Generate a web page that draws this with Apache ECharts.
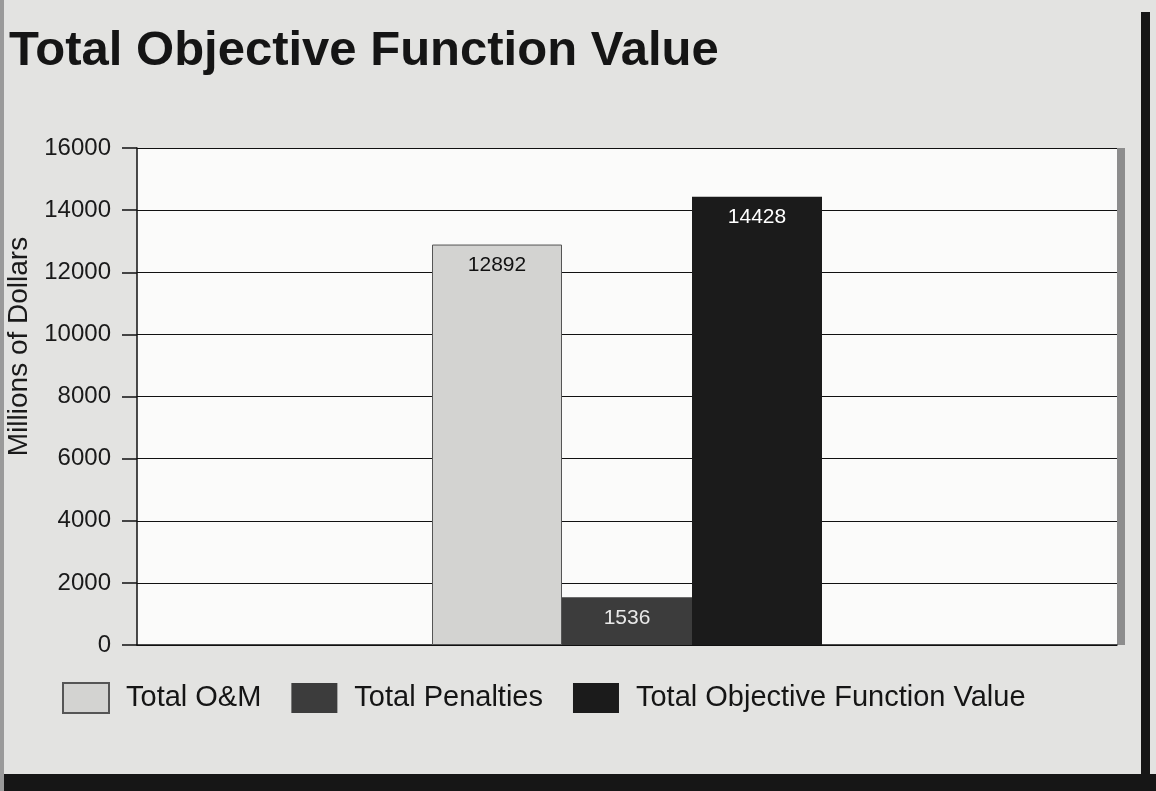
<!DOCTYPE html>
<html>
<head>
<meta charset="utf-8">
<script src="https://cdn.jsdelivr.net/npm/echarts@6/dist/echarts.min.js"></script>
<style>
  html, body { margin: 0; padding: 0; }
  body { width: 1156px; height: 791px; background: #e3e3e1; position: relative; overflow: hidden; }
  #chart { position: absolute; left: 0; top: 0; width: 1156px; height: 791px; }
  .edge { position: absolute; background: #161616; }
</style>
</head>
<body>
<div class="edge" style="left:1141px; top:12px; width:9px; height:779px;"></div>
<div class="edge" style="left:0; top:774px; width:1156px; height:17px;"></div>
<div class="edge" style="left:0; top:0; width:4px; height:791px; background:#9a9a9a;"></div>
<div id="chart"></div>
<script>
// values (millions of dollars)
const seriesNames = ['Total O&M', 'Total Penalties', 'Total Objective Function Value'];
const seriesValues = [12892, 1536, 14428];
const barColors = ['#d3d3d1', '#3c3c3c', '#1b1b1b'];
const labelColors = ['#111', '#e8e8e8', '#fff'];
const yTicks = { min: 0, max: 16000, interval: 2000 };

const chart = echarts.init(document.getElementById('chart'));

const option = {
  backgroundColor: 'transparent',
  textStyle: { fontFamily: 'Liberation Sans, Arial, sans-serif' },
  title: {
    text: 'Total Objective Function Value',
    left: 4,
    top: 22,
    textStyle: { fontSize: 49, fontWeight: 'bold', color: '#151515' }
  },
  legend: {
    left: 62,
    top: 682,
    padding: 0,
    itemWidth: 46,
    itemHeight: 30,
    itemGap: 30,
    icon: 'rect',
    textStyle: { fontSize: 29, color: '#151515', padding: [0, 0, 0, 12] },
    data: seriesNames
  },
  grid: {
    left: 137,
    right: 39,
    top: 148,
    bottom: 146,
    outerBoundsMode: 'none',
    containLabel: false,
    show: true,
    backgroundColor: '#fbfbfa',
    borderWidth: 0,
    shadowColor: '#8d8d8d',
    shadowOffsetX: 8,
    shadowOffsetY: 0,
    shadowBlur: 0
  },
  xAxis: {
    type: 'category',
    data: [''],
    axisLine: { lineStyle: { color: '#111', width: 1.5 } },
    axisTick: { show: false },
    axisLabel: { show: false }
  },
  yAxis: {
    type: 'value',
    min: yTicks.min,
    max: yTicks.max,
    interval: yTicks.interval,
    name: 'Millions of Dollars',
    nameLocation: 'middle',
    nameGap: 104,
    nameTextStyle: { fontSize: 28, color: '#1a1a1a', padding: [0, 0, 0, 100] },
    axisLine: { show: true, lineStyle: { color: '#111', width: 1.5 } },
    axisTick: { show: true, length: 15, lineStyle: { color: '#111', width: 1.5 } },
    axisLabel: { fontSize: 24, color: '#1a1a1a', margin: 26, formatter: v => String(v) },
    splitLine: { lineStyle: { color: '#111', width: 1.2 } }
  },
  series: seriesNames.map((name, i) => ({
    name: name,
    type: 'bar',
    barWidth: 130,
    barGap: '0%',
    data: [seriesValues[i]],
    itemStyle: {
      color: barColors[i],
      borderColor: i === 0 ? '#555' : barColors[i],
      borderWidth: i === 0 ? 1 : 0
    },
    label: {
      show: true,
      position: 'insideTop',
      distance: 10,
      fontSize: 21,
      color: labelColors[i]
    }
  }))
};

chart.setOption(option);
</script>
</body>
</html>
